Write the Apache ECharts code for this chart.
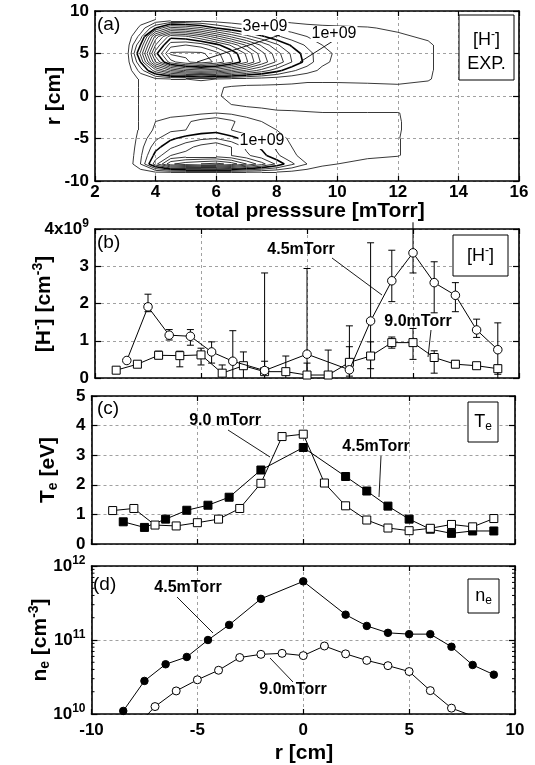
<!DOCTYPE html>
<html><head><meta charset="utf-8">
<script src="https://cdn.jsdelivr.net/npm/echarts@6/dist/echarts.min.js"></script>
<style>html,body{margin:0;padding:0;background:#fff}#c{width:535px;height:765px}</style>
</head><body><div id="c"></div>
<script>
// ================= DATA =================
// (a) H- density map, units 1e9 cm^-3; rows follow contourR, columns follow contourPressure
const contourPressure = [3, 3.5, 4, 4.5, 5, 5.5, 6, 6.5, 7, 7.5, 8, 8.5, 9, 9.5, 10, 11, 12, 13, 14];
const contourR = [9, 8, 7, 6, 5, 4, 3, 2, 1, 0, -1, -2, -3, -4, -5, -6, -7, -8, -9];
const hMapRows = [
  [0, 0.15, 0.25, 0.3, 0.3, 0.3, 0.3, 0.28, 0.27, 0.26, 0.2, 0.15, 0.12, 0.1, 0.1, 0.1, 0.1, 0.05, 0],
  [0, 0.3, 1.0, 1.6, 1.5, 1.3, 1.0, 0.8, 0.65, 0.55, 0.45, 0.4, 0.35, 0.32, 0.3, 0.27, 0.2, 0.1, 0],
  [0, 0.6, 2.1, 2.9, 2.8, 2.5, 2.1, 1.7, 1.35, 1.05, 0.8, 0.6, 0.5, 0.42, 0.38, 0.33, 0.3, 0.2, 0],
  [0, 1.0, 2.5, 3.4, 3.5, 3.4, 3.1, 2.7, 2.2, 1.7, 1.3, 0.95, 0.7, 0.5, 0.42, 0.36, 0.32, 0.3, 0],
  [0, 1.3, 2.9, 3.8, 3.8, 3.8, 3.6, 3.2, 2.7, 2.1, 1.6, 1.2, 0.85, 0.6, 0.45, 0.4, 0.35, 0.3, 0],
  [0, 1.0, 2.5, 3.4, 3.7, 3.9, 3.7, 3.3, 2.8, 2.2, 1.7, 1.25, 0.9, 0.55, 0.45, 0.4, 0.35, 0.3, 0],
  [0, 0.6, 1.4, 2.0, 2.3, 2.4, 2.3, 2.0, 1.7, 1.4, 1.1, 0.8, 0.6, 0.45, 0.4, 0.35, 0.32, 0.3, 0],
  [0, 0.3, 0.45, 0.5, 0.5, 0.55, 0.5, 0.45, 0.4, 0.38, 0.35, 0.32, 0.3, 0.3, 0.3, 0.3, 0.3, 0.28, 0],
  [0, 0.3, 0.3, 0.35, 0.3, 0.3, 0.28, 0.22, 0.2, 0.2, 0.2, 0.2, 0.18, 0.18, 0.18, 0.2, 0.22, 0.15, 0],
  [0, 0.3, 0.35, 0.5, 0.4, 0.35, 0.3, 0.15, 0.1, 0.1, 0.1, 0.1, 0.1, 0.1, 0.1, 0.1, 0.1, 0.05, 0],
  [0, 0.3, 0.3, 0.3, 0.3, 0.35, 0.3, 0.25, 0.2, 0.2, 0.15, 0.12, 0.1, 0.1, 0.1, 0.1, 0.1, 0.05, 0],
  [0, 0.3, 0.35, 0.4, 0.4, 0.45, 0.5, 0.45, 0.4, 0.32, 0.3, 0.3, 0.28, 0.26, 0.26, 0.26, 0.26, 0.1, 0],
  [0, 0.3, 0.5, 0.6, 0.7, 0.85, 0.95, 0.8, 0.6, 0.5, 0.45, 0.35, 0.3, 0.3, 0.3, 0.3, 0.27, 0.1, 0],
  [0, 0.3, 0.55, 0.7, 0.75, 0.85, 0.9, 0.75, 0.6, 0.55, 0.5, 0.4, 0.35, 0.3, 0.3, 0.3, 0.27, 0.1, 0],
  [0, 0.35, 0.7, 0.95, 1.1, 1.2, 1.25, 1.1, 0.9, 0.75, 0.6, 0.45, 0.4, 0.35, 0.3, 0.3, 0.26, 0.1, 0],
  [0, 0.4, 0.9, 1.2, 1.4, 1.6, 1.75, 1.5, 1.2, 0.95, 0.7, 0.5, 0.4, 0.35, 0.3, 0.3, 0.26, 0.1, 0],
  [0, 0.45, 1.1, 1.5, 1.6, 1.6, 1.6, 1.5, 1.3, 1.1, 0.8, 0.55, 0.4, 0.35, 0.3, 0.28, 0.26, 0.1, 0],
  [0, 0.5, 1.4, 2.2, 2.4, 2.5, 2.6, 2.4, 2.0, 1.6, 1.2, 0.8, 0.5, 0.3, 0.25, 0.2, 0.15, 0.1, 0],
  [0, 0.1, 0.2, 0.2, 0.2, 0.2, 0.2, 0.2, 0.2, 0.2, 0.2, 0.15, 0.1, 0.1, 0.1, 0.1, 0.05, 0, 0]
];
const contourLevels = [0.25, 0.5, 0.75, 1.0, 1.25, 1.5, 1.75, 2.0, 2.25, 2.5, 2.75, 3.0, 3.25, 3.5, 3.75];
const boldLevels = [1.0, 3.0];

// (b) [H-] vs r, units 1e9 cm^-3
const hR45 = [-8.5, -7.5, -6.5, -5.5, -4.5, -3.5, -2, 0, 2, 3, 4, 5, 6, 7, 8, 9];
const hVal45 = [0.47, 1.91, 1.15, 1.12, 0.70, 0.45, 0.20, 0.64, 0.22, 1.53, 2.61, 3.36, 2.56, 2.22, 1.29, 0.76];
const hLo45 = [0.47, 1.78, 1.02, 0.88, 0.40, 0.00, 0.00, 0.10, 0.00, 0.00, 2.05, 2.82, 1.75, 1.78, 1.09, 0.00];
const hHi45 = [0.47, 2.25, 1.30, 1.30, 0.97, 1.27, 2.82, 2.94, 1.40, 3.63, 3.43, 4.18, 3.12, 2.56, 1.58, 1.48];
const hR90 = [-9, -8, -7, -6, -5, -4, -3, -2, -1, 0, 1, 2, 3, 4, 5, 6, 7, 8, 9];
const hVal90 = [0.21, 0.37, 0.61, 0.60, 0.62, 0.13, 0.33, 0.17, 0.17, 0.08, 0.08, 0.42, 0.59, 0.95, 0.95, 0.55, 0.37, 0.33, 0.25];
const hLo90 = [0.21, 0.37, 0.52, 0.30, 0.35, 0.00, 0.00, 0.00, 0.00, 0.00, 0.00, 0.05, 0.25, 0.80, 0.50, 0.13, 0.28, 0.30, 0.10];
const hHi90 = [0.21, 0.37, 0.72, 0.72, 0.80, 0.35, 0.70, 0.45, 0.59, 0.40, 0.75, 0.84, 0.97, 1.10, 1.33, 0.73, 0.47, 0.37, 0.35];

// (c) Te vs r [eV]
const teR45 = [-8.5, -7.5, -6.5, -5.5, -4.5, -3.5, -2, 0, 2, 3, 4, 5, 6, 7, 8, 9];
const teVal45 = [0.75, 0.56, 0.84, 1.14, 1.31, 1.58, 2.50, 3.26, 2.28, 1.79, 1.28, 0.84, 0.50, 0.36, 0.44, 0.44];
const teR90 = [-9, -8, -7, -6, -5, -4, -3, -2, -1, 0, 1, 2, 3, 4, 5, 6, 7, 8, 9];
const teVal90 = [1.13, 1.20, 0.64, 0.61, 0.72, 0.84, 1.20, 2.05, 3.63, 3.71, 2.06, 1.29, 0.81, 0.54, 0.45, 0.53, 0.66, 0.58, 0.86];

// (d) ne vs r [cm^-3]
const neR45 = [-8.5, -7.5, -6.5, -5.5, -4.5, -3.5, -2, 0, 2, 3, 4, 5, 6, 7, 8, 9];
const neVal45 = [1.10e10, 2.8e10, 4.7e10, 5.9e10, 1.0e11, 1.6e11, 3.6e11, 6.2e11, 2.2e11, 1.55e11, 1.25e11, 1.2e11, 1.2e11, 8.1e10, 4.6e10, 3.4e10];
const neR90 = [-8, -7, -6, -5, -4, -3, -2, -1, 0, 1, 2, 3, 4, 5, 6, 7, 8];
const neVal90 = [6.3e9, 1.26e10, 2.05e10, 2.9e10, 3.9e10, 5.8e10, 6.4e10, 6.6e10, 6.15e10, 8.3e10, 6.5e10, 5.3e10, 4.5e10, 3.75e10, 2.07e10, 1.2e10, 9.4e9];
const neMinorTicks = [2e10, 3e10, 4e10, 5e10, 6e10, 7e10, 8e10, 9e10, 2e11, 3e11, 4e11, 5e11, 6e11, 7e11, 8e11, 9e11];

// ================= HELPERS =================
const zip = (xs, ys) => xs.map((x, i) => [x, ys[i]]);
const zip3 = (xs, a, b) => xs.map((x, i) => [x, a[i], b[i]]);

function contourSegments(P, R, Z, level) {
  const segs = [];
  for (let i = 0; i < R.length - 1; i++) {
    for (let j = 0; j < P.length - 1; j++) {
      const a = Z[i][j], b = Z[i][j + 1], c = Z[i + 1][j + 1], d = Z[i + 1][j];
      const idx = (a >= level ? 8 : 0) | (b >= level ? 4 : 0) | (c >= level ? 2 : 0) | (d >= level ? 1 : 0);
      if (idx === 0 || idx === 15) continue;
      const t = (v1, v2) => (level - v1) / (v2 - v1);
      const top = [P[j] + t(a, b) * (P[j + 1] - P[j]), R[i]];
      const right = [P[j + 1], R[i] + t(b, c) * (R[i + 1] - R[i])];
      const bottom = [P[j] + t(d, c) * (P[j + 1] - P[j]), R[i + 1]];
      const left = [P[j], R[i] + t(a, d) * (R[i + 1] - R[i])];
      const m = (a + b + c + d) / 4;
      switch (idx) {
        case 1: case 14: segs.push([left, bottom]); break;
        case 2: case 13: segs.push([bottom, right]); break;
        case 3: case 12: segs.push([left, right]); break;
        case 4: case 11: segs.push([top, right]); break;
        case 6: case 9: segs.push([top, bottom]); break;
        case 7: case 8: segs.push([left, top]); break;
        case 5:
          if (m >= level) { segs.push([left, top]); segs.push([bottom, right]); }
          else { segs.push([left, bottom]); segs.push([top, right]); }
          break;
        case 10:
          if (m >= level) { segs.push([top, right]); segs.push([left, bottom]); }
          else { segs.push([left, top]); segs.push([bottom, right]); }
          break;
      }
    }
  }
  return segs;
}

const thinSegs = [], boldSegs = [];
contourLevels.forEach(lv => {
  const s = contourSegments(contourPressure, contourR, hMapRows, lv).map(c => ({ coords: c }));
  if (boldLevels.includes(lv)) boldSegs.push(...s); else thinSegs.push(...s);
});

// ================= STYLE =================
const FONT = 'Liberation Sans, Arial, Helvetica, sans-serif';
const axisLineStyle = { color: '#000', width: 1.6 };
const tickStyle = { color: '#000', width: 1.2 };
const splitStyle = { color: '#8a8a8a', width: 0.8, type: [3, 3] };
const lblStyle = { color: '#000', fontFamily: FONT, fontWeight: 'bold', fontSize: 17 };
const supRich = {
  n: { fontFamily: FONT, fontWeight: 'bold', fontSize: 17, color: '#000', lineHeight: 22 },
  sup: { fontFamily: FONT, fontWeight: 'bold', fontSize: 12, color: '#000', verticalAlign: 'top', lineHeight: 22 }
};

const grids = [
  { left: 95, top: 11, width: 424, height: 170 },
  { left: 95, top: 229, width: 424, height: 149 },
  { left: 91.5, top: 396, width: 423.5, height: 148 },
  { left: 91.5, top: 566, width: 423.5, height: 148 }
];

function xPair(g, min, max, interval, showLabel, margin) {
  return [
    { gridIndex: g, type: 'value', position: 'bottom', min, max, interval,
      axisLine: { show: true, onZero: false, lineStyle: axisLineStyle },
      axisTick: { show: true, inside: true, length: 5, lineStyle: tickStyle },
      axisLabel: Object.assign({ show: showLabel, margin: margin }, lblStyle),
      splitLine: { show: true, lineStyle: splitStyle } },
    { gridIndex: g, type: 'value', position: 'top', min, max, interval,
      axisLine: { show: true, onZero: false, lineStyle: axisLineStyle },
      axisTick: { show: true, inside: true, length: 5, lineStyle: tickStyle },
      axisLabel: { show: false }, splitLine: { show: false } }
  ];
}
function yPair(g, type, min, max, interval, labelOpt) {
  const base = { gridIndex: g, type, min, max };
  if (type === 'value') base.interval = interval; else base.logBase = 10;
  return [
    Object.assign({}, base, { position: 'left',
      axisLine: { show: true, onZero: false, lineStyle: axisLineStyle },
      axisTick: { show: true, inside: true, length: 6, lineStyle: tickStyle },
      axisLabel: Object.assign({ show: true, margin: 6 }, lblStyle, labelOpt || {}),
      splitLine: { show: true, lineStyle: splitStyle } }),
    Object.assign({}, base, { position: 'right',
      axisLine: { show: true, onZero: false, lineStyle: axisLineStyle },
      axisTick: { show: true, inside: true, length: 6, lineStyle: tickStyle },
      axisLabel: { show: false }, splitLine: { show: false } })
  ];
}

const xAxes = [
  ...xPair(0, 2, 16, 2, true, 3),
  ...xPair(1, -10, 10, 5, false, 6),
  ...xPair(2, -10, 10, 5, false, 6),
  ...xPair(3, -10, 10, 5, true, 8)
];
const yAxes = [
  ...yPair(0, 'value', -10, 10, 5),
  ...yPair(1, 'value', 0, 4, 1, { formatter: v => v === 4 ? '{n|4x10}{sup|9}' : '{n|' + v + '}', rich: supRich }),
  ...yPair(2, 'value', 0, 5, 1),
  ...yPair(3, 'log', 1e10, 1e12, null, { formatter: v => '{n|10}{sup|' + Math.round(Math.log10(v)) + '}', rich: supRich })
];

function errSeries(xi, data) {
  return {
    type: 'custom', xAxisIndex: xi, yAxisIndex: xi, z: 3, silent: true,
    data: data,
    renderItem: (params, api) => {
      const x = api.value(0), lo = api.value(1), hi = api.value(2);
      if (hi - lo < 1e-6) return null;
      const pH = api.coord([x, hi]), pL = api.coord([x, lo]);
      const cs = params.coordSys;
      const yTop = pH[1], yBot = Math.min(pL[1], cs.y + cs.height);
      const ch = [{ type: 'line', shape: { x1: pH[0], y1: yTop, x2: pH[0], y2: yBot }, style: { stroke: '#000', lineWidth: 1 } }];
      const w = 3.5;
      if (hi <= 4) ch.push({ type: 'line', shape: { x1: pH[0] - w, y1: yTop, x2: pH[0] + w, y2: yTop }, style: { stroke: '#000', lineWidth: 1 } });
      if (lo > 0) ch.push({ type: 'line', shape: { x1: pL[0] - w, y1: pL[1], x2: pL[0] + w, y2: pL[1] }, style: { stroke: '#000', lineWidth: 1 } });
      return { type: 'group', children: ch };
    }
  };
}

function lineSeries(xi, data, filled, symbol, size, z) {
  return {
    type: 'line', xAxisIndex: xi, yAxisIndex: xi, data: data, z: z || 4,
    symbol: symbol, symbolSize: size, showAllSymbol: true, clip: true,
    lineStyle: { color: '#000', width: 1 },
    itemStyle: { color: filled ? '#000' : '#fff', borderColor: '#000', borderWidth: 1, opacity: 1 },
    emphasis: { disabled: true }, animation: false
  };
}

const series = [
  { type: 'lines', coordinateSystem: 'cartesian2d', xAxisIndex: 0, yAxisIndex: 0, polyline: false,
    data: thinSegs, lineStyle: { color: '#222', width: 0.9, opacity: 1 }, silent: true, z: 3 },
  { type: 'lines', coordinateSystem: 'cartesian2d', xAxisIndex: 0, yAxisIndex: 0, polyline: false,
    data: boldSegs, lineStyle: { color: '#000', width: 1.6, opacity: 1 }, silent: true, z: 3 },
  errSeries(2, zip3(hR45, hLo45, hHi45)),
  errSeries(2, zip3(hR90, hLo90, hHi90)),
  lineSeries(2, zip(hR90, hVal90), false, 'rect', 8, 4),
  lineSeries(2, zip(hR45, hVal45), false, 'circle', 8.5, 5),
  lineSeries(4, zip(teR45, teVal45), true, 'rect', 8, 4),
  lineSeries(4, zip(teR90, teVal90), false, 'rect', 8, 5),
  lineSeries(6, zip(neR45, neVal45), true, 'circle', 7.5, 4),
  lineSeries(6, zip(neR90, neVal90), false, 'circle', 8, 5),
  { type: 'custom', xAxisIndex: 6, yAxisIndex: 6, silent: true, z: 6,
    data: neMinorTicks.map(v => [0, v]),
    renderItem: (params, api) => {
      const y = api.coord([0, api.value(1)])[1];
      const cs = params.coordSys;
      return { type: 'group', children: [
        { type: 'line', shape: { x1: cs.x, y1: y, x2: cs.x + 3, y2: y }, style: { stroke: '#000', lineWidth: 1 } },
        { type: 'line', shape: { x1: cs.x + cs.width - 3, y1: y, x2: cs.x + cs.width, y2: y }, style: { stroke: '#000', lineWidth: 1 } }
      ] };
    } }
];

// ================= ANNOTATIONS =================
const T = (x, y, text, size, bold, align, extra) => Object.assign({
  type: 'text', x: x, y: y, z: 20,
  style: Object.assign({ text: text, fill: '#000', font: (bold ? 'bold ' : '') + size + 'px ' + FONT,
    align: align || 'center', verticalAlign: 'middle' }, extra || {})
});
const L = (x1, y1, x2, y2) => ({ type: 'line', z: 19, shape: { x1, y1, x2, y2 }, style: { stroke: '#000', lineWidth: 0.9 } });
const B = (x, y, w, h) => ({ type: 'rect', z: 18, shape: { x, y, width: w, height: h }, style: { fill: '#fff', stroke: '#000', lineWidth: 1 } });
const richBase = (size, bold) => ({
  n: { font: (bold ? 'bold ' : '') + size + 'px ' + FONT, fill: '#000', lineHeight: size + 4 },
  sup: { font: (bold ? 'bold ' : '') + Math.round(size * 0.65) + 'px ' + FONT, fill: '#000', verticalAlign: 'top', lineHeight: size + 4 },
  sub: { font: (bold ? 'bold ' : '') + Math.round(size * 0.65) + 'px ' + FONT, fill: '#000', verticalAlign: 'bottom', lineHeight: size + 4 }
});
const RT = (x, y, text, size, bold, rot) => ({
  type: 'text', x: x, y: y, rotation: rot || 0, z: 20,
  style: { text: text, rich: richBase(size, bold), align: 'center', verticalAlign: 'middle' }
});

const graphic = [
  // panel (a)
  T(97, 25, '(a)', 19, false, 'left'),
  B(459, 15, 55, 65),
  RT(486.5, 40, '{n|[H}{sup|-}{n|]}', 18, false),
  T(486.5, 64, 'EXP.', 18, false),
  L(280, 35, 197, 62),
  L(333, 41, 300, 62),
  T(265, 27, '3e+09', 16, false, 'center', { backgroundColor: '#fff', padding: [0, 1] }),
  T(334, 34, '1e+09', 16, false, 'center', { backgroundColor: '#fff', padding: [0, 1] }),
  T(262, 141, '1e+09', 16, false, 'center', { backgroundColor: '#fff', padding: [0, 1] }),
  T(310, 211, 'total presssure [mTorr]', 21, true),
  RT(54, 96, '{n|r [cm]}', 21, true, Math.PI / 2),
  // panel (b)
  T(97, 243, '(b)', 19, false, 'left'),
  B(453, 235, 55, 41),
  RT(480.5, 256, '{n|[H}{sup|-}{n|]}', 18, false),
  L(332, 258, 382, 295),
  T(301, 250, '4.5mTorr', 16, true),
  L(431, 330, 428, 357),
  T(418, 322, '9.0mTorr', 16, true),
  RT(44, 304, '{n|[H}{sup|-}{n|] [cm}{sup|-3}{n|]}', 21, true, Math.PI / 2),
  // panel (c)
  T(97, 409, '(c)', 19, false, 'left'),
  B(468, 402, 30, 40),
  RT(483, 422, '{n|T}{sub|e}', 18, false),
  L(228, 430, 270, 457),
  T(225, 421, '9.0 mTorr', 16, true),
  L(381, 456, 379, 497),
  T(376, 447, '4.5mTorr', 16, true),
  RT(48, 470, '{n|T}{sub|e}{n| [eV]}', 21, true, Math.PI / 2),
  // panel (d)
  T(93, 585, '(d)', 19, false, 'left'),
  B(468, 579, 31, 34),
  RT(483.5, 596, '{n|n}{sub|e}', 18, false),
  L(177, 597, 213, 633),
  T(188, 588, '4.5mTorr', 16, true),
  L(270, 658, 293, 682),
  T(293, 690, '9.0mTorr', 16, true),
  RT(40, 640, '{n|n}{sub|e}{n| [cm}{sup|-3}{n|]}', 21, true, Math.PI / 2),
  T(304, 753, 'r [cm]', 21, true)
];

const chart = echarts.init(document.getElementById('c'), null, { renderer: 'canvas' });
chart.setOption({
  animation: false,
  backgroundColor: '#fff',
  grid: grids,
  xAxis: xAxes,
  yAxis: yAxes,
  series: series,
  graphic: graphic
});
</script></body></html>
